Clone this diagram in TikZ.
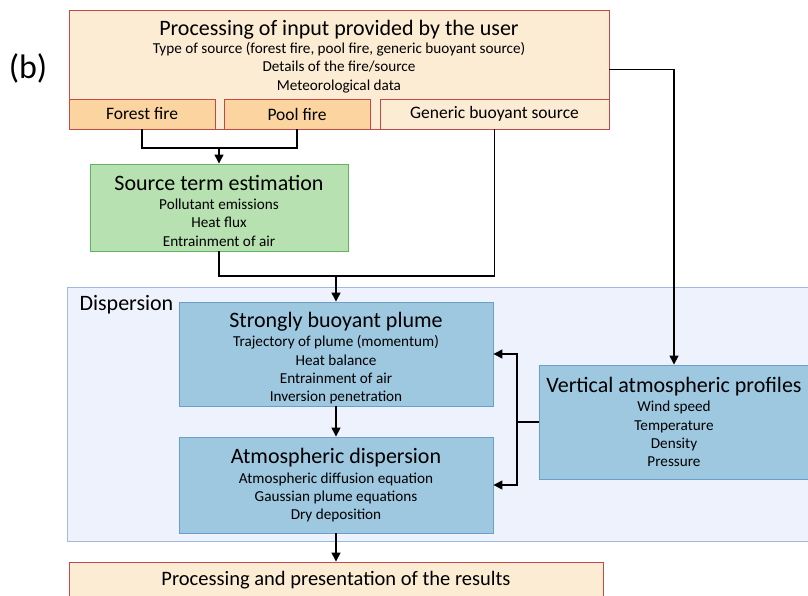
\documentclass[tikz,border=0pt]{standalone}
\usepackage{fontspec}
\setmainfont{Carlito}
\usetikzlibrary{arrows.meta}

\definecolor{peche}{RGB}{253,236,212}
\definecolor{orange}{RGB}{251,212,160}
\definecolor{rouge}{RGB}{196,72,72}
\definecolor{vert}{RGB}{183,225,176}
\definecolor{vertfonce}{RGB}{96,180,96}
\definecolor{bleufond}{RGB}{238,242,253}
\definecolor{bleubord}{RGB}{160,185,225}
\definecolor{bleu}{RGB}{157,200,224}
\definecolor{bleufonce}{RGB}{108,158,204}

\newcommand{\titre}{\fontsize{22}{24}\selectfont}

\tikzset{boite/.style = {draw, align=center, inner sep=0pt, line width=0.9pt,
                         font=\fontsize{15.2}{18.3}\selectfont},
         entree/.style = {boite, fill=peche, draw=rouge},
         feu/.style = {boite, fill=#1, draw=rouge, minimum width=146pt, minimum height=30pt,
                       font=\fontsize{17.5}{20}\selectfont},
         feu/.default = orange,
         source/.style = {boite, fill=vert, draw=vertfonce},
         modele/.style = {boite, fill=bleu, draw=bleufonce},
         ligne/.style = {line width=1.4pt},
         fleche/.style = {ligne, -{Triangle[length=9pt,width=9pt]}}
        }

\begin{document}
\begin{tikzpicture}[x=1pt, y=-1pt]
  \useasboundingbox (0,0) rectangle (808,596);
  \node[font=\fontsize{34}{38}\selectfont] (lettre) at (28,68) {(b)};

  \node[entree, minimum width=540pt, minimum height=119pt] (input) at (339,69.5) {};
  \node[align=center, font=\fontsize{15.2}{18.3}\selectfont] (inputtxt) at (339,56.5)
       {{\titre Processing of input provided by the user}\\
        Type of source (forest fire, pool fire, generic buoyant source)\\
        Details of the fire/source\\
        Meteorological data};
  \node[feu] (forest) at (142,114) {Forest fire};
  \node[feu] (pool) at (297,114) {Pool fire};
  \node[feu=peche, minimum width=229pt] (generic) at (494.5,114) {Generic buoyant source};

  \node[source, minimum width=258pt, minimum height=87pt] (source) at (219,207.5)
       {{\titre\rule{0pt}{21.5pt}Source term estimation}\\[1pt]
        Pollutant emissions\\
        Heat flux\\
        Entrainment of air};

  \node[draw=bleubord, fill=bleufond, line width=0.9pt, anchor=north west,
        minimum width=760pt, minimum height=254pt] (disp) at (67,287) {};
  \node[anchor=west, font=\fontsize{22}{24}\selectfont] (displabel) at (76,305) {Dispersion};

  \node[modele, minimum width=314pt, minimum height=104pt] (plume) at (336,354)
       {{\titre\rule{0pt}{23.5pt}Strongly buoyant plume}\\[1.5pt]
        Trajectory of plume (momentum)\\
        Heat balance\\
        Entrainment of air\\
        Inversion penetration};
  \node[modele, minimum width=314pt, minimum height=96pt] (atmos) at (336,485)
       {{\titre Atmospheric dispersion}\\[1.5pt]
        Atmospheric diffusion equation\\
        Gaussian plume equations\\
        Dry deposition};
  \node[modele, minimum width=270pt, minimum height=114pt] (vap) at (674,422)
       {{\titre Vertical atmospheric profiles}\\[1pt]
        Wind speed\\
        Temperature\\
        Density\\
        Pressure};

  \node[entree, minimum width=534pt, minimum height=36pt] (results) at (336,580)
       {\fontsize{20.5}{24}\selectfont Processing and presentation of the results};

  \coordinate (jfeu) at (219,148);
  \coordinate (jsrc) at (336,276);
  \coordinate (jvap) at (517,422);

  \draw[ligne] (forest.south) |- (jfeu);
  \draw[ligne] (pool.south) |- (jfeu);
  \draw[fleche] (jfeu) -- (source.north);
  \draw[ligne] (source.south) |- (jsrc);
  \draw[ligne] (generic.south) |- (jsrc);
  \draw[fleche] (jsrc) -- (plume.north);
  \draw[fleche] (input.east) -| (vap.north);
  \draw[ligne] (vap.west) -- (jvap);
  \draw[fleche] (jvap) |- (plume.east);
  \draw[fleche] (jvap) |- (atmos.east);
  \draw[fleche] (plume.south) -- (atmos.north);
  \draw[fleche] (atmos.south) -- (results.north);
\end{tikzpicture}
\end{document}
